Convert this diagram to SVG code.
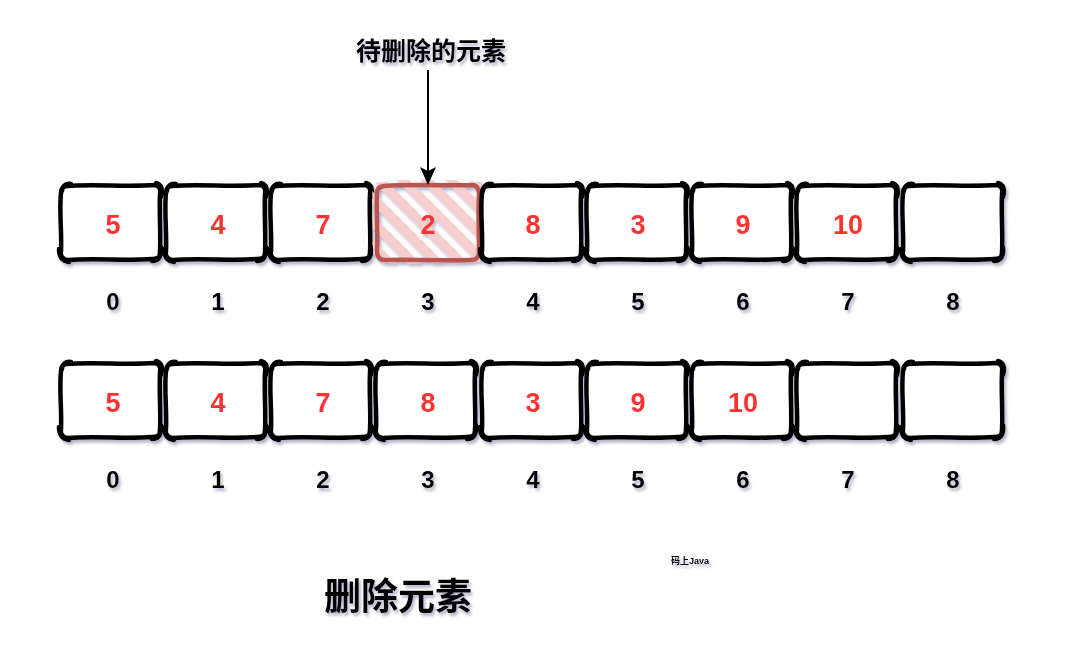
<svg xmlns="http://www.w3.org/2000/svg" xmlns:xlink="http://www.w3.org/1999/xlink" width="1073" height="648" viewBox="0 0 1073 648">
<style>
.sk{fill:none;stroke:#000;stroke-width:4.5;stroke-linecap:round;stroke-linejoin:round}
.bg{fill:#fff;stroke:none}
.val{font-family:"Liberation Sans",Arial,sans-serif;font-weight:bold;font-size:27px;fill:#ff3333;text-anchor:middle}
.idx{font-family:"Liberation Sans",Arial,sans-serif;font-weight:bold;font-size:24px;fill:#000;text-anchor:middle}
.cjk{font-family:"Liberation Sans","Noto Sans CJK SC",sans-serif;font-weight:bold;fill:#000;text-anchor:middle}
</style>
<defs>
<filter id="sh" x="-10%" y="-10%" width="130%" height="140%">
<feDropShadow dx="2" dy="3" stdDeviation="1.6" flood-color="#5a5a8a" flood-opacity="0.45"/>
</filter>
<pattern id="hatch" patternUnits="userSpaceOnUse" width="17" height="17" patternTransform="rotate(-45)">
<rect x="0" y="0" width="9" height="17" fill="#f8cecc"/>
</pattern>
<marker id="arr" markerWidth="18" markerHeight="16" refX="16" refY="8" orient="auto" markerUnits="userSpaceOnUse" viewBox="0 0 18 16">
<path d="M0,0 L18,8 L0,16 L4,8 Z" fill="#000"/>
</marker>
<g id="box">
<rect class="bg" x="0" y="0" width="100" height="76" rx="7"/>
<path class="sk" d="M7,2 C30,0 70,3 94,1 C99,1 101,5 100,10 C99,30 101,50 100,68 C100,74 97,75 92,75 C65,77 35,74 8,76 C3,76 0,72 1,67 C2,48 -1,28 1,9 C1,4 3,2 8,2 M2,7 C2,3 5,-1 11,0 M96,-1 C102,1 103,6 101,13 M101,63 C102,72 99,77 92,77 M9,78 C2,77 -1,72 -1,65"/>
</g>
</defs>

<g id="row1" filter="url(#sh)">
<g id="r1-0"><use href="#box" x="60" y="184"/><text class="val" x="113" y="234">5</text></g>
<g id="r1-1"><use href="#box" x="165" y="184"/><text class="val" x="218" y="234">4</text></g>
<g id="r1-2"><use href="#box" x="270" y="184"/><text class="val" x="323" y="234">7</text></g>
<g id="r1-3">
<path d="M372,184 C400,177 450,180 482,182 C484,215 482,240 480,262 C440,262 410,265 374,262 C372,235 373,210 372,184 Z" fill="url(#hatch)"/>
<path d="M384,186 C410,184 450,186 472,185 C477,185 479,189 479,194 C478,215 479,235 479,252 C479,258 476,260 470,260 C440,261 410,259 385,260 C380,260 377,257 377,251 C378,230 376,210 377,193 C377,188 380,186 386,186" fill="none" stroke="#b85450" stroke-width="4.5" stroke-linecap="round"/>
<text class="val" x="428" y="234">2</text>
</g>
<g id="r1-4"><use href="#box" x="481" y="184"/><text class="val" x="533" y="234">8</text></g>
<g id="r1-5"><use href="#box" x="586" y="184"/><text class="val" x="638" y="234">3</text></g>
<g id="r1-6"><use href="#box" x="691" y="184"/><text class="val" x="743" y="234">9</text></g>
<g id="r1-7"><use href="#box" x="796" y="184"/><text class="val" x="848" y="234">10</text></g>
<g id="r1-8"><use href="#box" x="902" y="184"/></g>
</g>

<g id="idx1" filter="url(#sh)">
<text class="idx" x="113" y="310">0</text>
<text class="idx" x="218" y="310">1</text>
<text class="idx" x="323" y="310">2</text>
<text class="idx" x="428" y="310">3</text>
<text class="idx" x="533" y="310">4</text>
<text class="idx" x="638" y="310">5</text>
<text class="idx" x="743" y="310">6</text>
<text class="idx" x="848" y="310">7</text>
<text class="idx" x="953" y="310">8</text>
</g>

<g id="row2" filter="url(#sh)">
<g id="r2-0"><use href="#box" x="60" y="362"/><text class="val" x="113" y="412">5</text></g>
<g id="r2-1"><use href="#box" x="165" y="362"/><text class="val" x="218" y="412">4</text></g>
<g id="r2-2"><use href="#box" x="270" y="362"/><text class="val" x="323" y="412">7</text></g>
<g id="r2-3"><use href="#box" x="375" y="362"/><text class="val" x="428" y="412">8</text></g>
<g id="r2-4"><use href="#box" x="481" y="362"/><text class="val" x="533" y="412">3</text></g>
<g id="r2-5"><use href="#box" x="586" y="362"/><text class="val" x="638" y="412">9</text></g>
<g id="r2-6"><use href="#box" x="691" y="362"/><text class="val" x="743" y="412">10</text></g>
<g id="r2-7"><use href="#box" x="796" y="362"/></g>
<g id="r2-8"><use href="#box" x="902" y="362"/></g>
</g>

<g id="idx2" filter="url(#sh)">
<text class="idx" x="113" y="488">0</text>
<text class="idx" x="218" y="488">1</text>
<text class="idx" x="323" y="488">2</text>
<text class="idx" x="428" y="488">3</text>
<text class="idx" x="533" y="488">4</text>
<text class="idx" x="638" y="488">5</text>
<text class="idx" x="743" y="488">6</text>
<text class="idx" x="848" y="488">7</text>
<text class="idx" x="953" y="488">8</text>
</g>

<g id="connectors">
<line x1="428" y1="70" x2="428" y2="183" stroke="#000" stroke-width="2" marker-end="url(#arr)"/>
</g>

<g id="label-target" filter="url(#sh)">
<text class="cjk" x="431" y="60" font-size="25">待删除的元素</text>
</g>
<g id="label-watermark" filter="url(#sh)">
<text class="cjk" x="690" y="564" font-size="9" font-weight="normal">码上Java</text>
</g>
<g id="label-title" filter="url(#sh)">
<text class="cjk" x="398" y="610" font-size="37">删除元素</text>
</g>
</svg>
